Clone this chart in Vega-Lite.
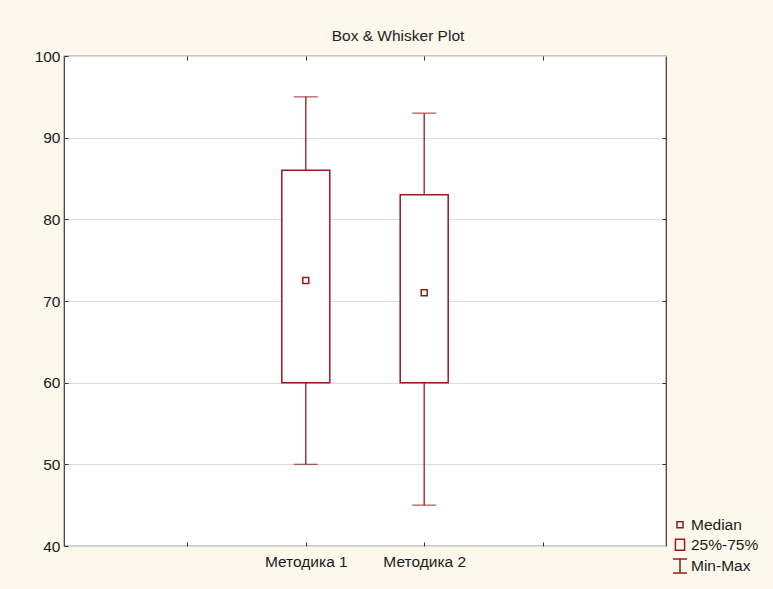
{
  "$schema": "https://vega.github.io/schema/vega-lite/v6.json",
  "width": 602,
  "height": 490,
  "autosize": {"type": "none"},
  "padding": {"left": 64, "top": 56, "right": 107, "bottom": 43},
  "background": "#fdf8ec",
  "title": {"text": "Box & Whisker Plot", "fontSize": 15.5, "font": "Liberation Sans", "fontWeight": "normal", "color": "#222222", "offset": 5, "dx": 33},
  "data": {"values": [
    {"method": "Методика 1", "pos": 2, "min": 50, "q1": 60, "median": 72.5, "q3": 86, "max": 95, "lg": "Median"},
    {"method": "Методика 2", "pos": 3, "min": 45, "q1": 60, "median": 71, "q3": 83, "max": 93, "lg": "Median"}
  ]},
  "layer": [
    {
      "mark": {"type": "rule", "color": "#961c1c", "strokeWidth": 1.3},
      "encoding": {
        "x": {"field": "pos", "type": "quantitative", "scale": {"domain": [0, 5], "nice": false, "zero": false},
          "axis": {"orient": "bottom", "values": [1, 2, 3, 4], "labelExpr": "datum.value == 2 ? 'Методика 1' : datum.value == 3 ? 'Методика 2' : ''", "grid": false, "domain": false, "tickSize": -4, "tickColor": "#333333", "title": null, "labelFontSize": 15.5, "labelFont": "Liberation Sans", "labelColor": "#1a1a1a", "labelPadding": 12}},
        "y": {"field": "max", "type": "quantitative", "scale": {"domain": [40, 100], "nice": false, "zero": false},
          "axis": {"orient": "left", "values": [40, 50, 60, 70, 80, 90, 100], "grid": true, "gridColor": "#dcdcdc", "domain": false, "tickSize": -4, "tickColor": "#333333", "title": null, "labelFontSize": 15.5, "labelFont": "Liberation Sans", "labelColor": "#1a1a1a", "labelPadding": 8}},
        "y2": {"field": "q3"}
      }
    },
    {
      "mark": {"type": "rule", "color": "#961c1c", "strokeWidth": 1.3},
      "encoding": {
        "x": {"field": "pos", "type": "quantitative",
          "axis": {"orient": "top", "values": [1, 2, 3, 4], "labels": false, "grid": false, "domain": false, "tickSize": -4, "tickColor": "#333333", "title": null}},
        "y": {"field": "q1", "type": "quantitative",
          "axis": {"orient": "right", "values": [50, 60, 70, 80, 90], "labels": false, "grid": false, "domain": false, "tickSize": -4, "tickColor": "#333333", "title": null}},
        "y2": {"field": "min"}
      }
    },
    {
      "mark": {"type": "tick", "orient": "horizontal", "color": "#961c1c", "size": 24, "thickness": 1.3},
      "encoding": {
        "x": {"field": "pos", "type": "quantitative", "axis": null},
        "y": {"field": "max", "type": "quantitative", "axis": null}
      }
    },
    {
      "mark": {"type": "tick", "orient": "horizontal", "color": "#961c1c", "size": 24, "thickness": 1.3},
      "encoding": {
        "x": {"field": "pos", "type": "quantitative", "axis": null},
        "y": {"field": "min", "type": "quantitative", "axis": null}
      }
    },
    {
      "mark": {"type": "bar", "size": 48, "fill": "white", "stroke": "#961c1c", "strokeWidth": 1.5},
      "encoding": {
        "x": {"field": "pos", "type": "quantitative", "axis": null},
        "y": {"field": "q1", "type": "quantitative", "axis": null},
        "y2": {"field": "q3"}
      }
    },
    {
      "mark": {"type": "point", "filled": false, "color": "#961c1c", "strokeWidth": 1.5, "opacity": 1},
      "encoding": {
        "x": {"field": "pos", "type": "quantitative", "axis": null},
        "y": {"field": "median", "type": "quantitative", "axis": null},
        "shape": {"field": "lg", "type": "nominal",
          "scale": {"domain": ["Median", "25%-75%", "Min-Max"], "range": ["square", "M-0.85,-1H0.85V1H-0.85Z", "M-1,-1H1M0,-1V1M-1,1H1"]},
          "legend": {"orient": "none", "legendX": 608, "legendY": 461, "title": null, "labelFontSize": 15.5, "labelFont": "Liberation Sans", "labelColor": "#1a1a1a", "symbolStrokeColor": "#961c1c", "symbolFillColor": "white", "symbolStrokeWidth": 1.5, "rowPadding": 2, "labelOffset": 3}},
        "size": {"field": "lg", "type": "nominal",
          "scale": {"domain": ["Median", "25%-75%", "Min-Max"], "range": [36, 196, 144]}}
      }
    }
  ],
  "resolve": {"axis": {"x": "independent", "y": "independent"}},
  "config": {
    "view": {"stroke": "#333333", "strokeWidth": 1.2, "fill": "white"}
  }
}
